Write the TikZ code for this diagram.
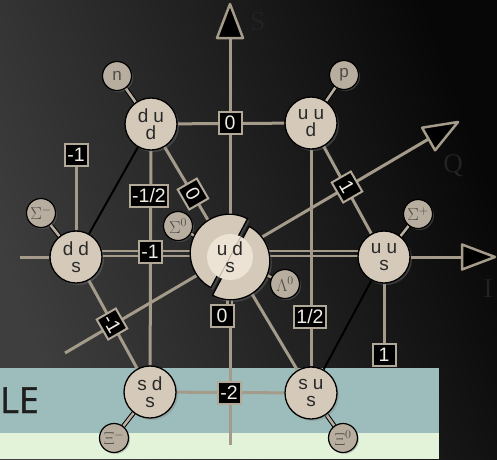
\documentclass[tikz,border=0pt]{standalone}
\usepackage{fontspec}
\setmainfont{Liberation Sans}
\newfontfamily\serifface{Liberation Serif}
\newfontfamily\leface[FakeBold=1.2]{Open Sans}
\usetikzlibrary{shadows,calc}
\pgfdeclarelayer{back}
\pgfdeclarelayer{bg}
\pgfsetlayers{back,bg,main}
\definecolor{bgA}{HTML}{3E3E3E}
\definecolor{bgB}{HTML}{070707}
\definecolor{tealband}{HTML}{9CBDBB}
\definecolor{greenband}{HTML}{E3F3DA}
\definecolor{letext}{HTML}{1E1E1E}
\definecolor{beige}{HTML}{D5CABA}
\definecolor{beigein}{HTML}{ECE3D5}
\definecolor{cutline}{HTML}{BDB2A2}
\definecolor{smallfill}{HTML}{B8AE9F}
\definecolor{linecol}{HTML}{A59B8B}
\definecolor{boxedge}{HTML}{B2A898}
\definecolor{boxtext}{HTML}{F2EDE4}
\definecolor{qtext}{HTML}{2A2A2A}
\definecolor{stext}{HTML}{4E4A45}
\definecolor{axislab}{HTML}{222222}
\begin{document}
\begin{tikzpicture}[x=1pt,y=-1pt,
  quark/.style={circle, draw=black, line width=1.3pt, fill=beige, minimum size=52pt,
    inner sep=0pt, align=center, text=qtext, font=\fontsize{19}{17.5}\selectfont,
    drop shadow={opacity=0.35, shadow xshift=2pt, shadow yshift=-2pt}},
  particle/.style={circle, draw=black, line width=1.2pt, fill=smallfill, minimum size=29pt,
    inner sep=0pt, text=stext, font=\fontsize{17}{17}\selectfont,
    drop shadow={opacity=0.35, shadow xshift=1.5pt, shadow yshift=-1.5pt}},
  numbox/.style={draw=boxedge, line width=2pt, fill=black, text=boxtext,
    font=\fontsize{19.5}{19.5}\selectfont, minimum height=22pt, minimum width=23pt, inner sep=2.5pt},
  axisline/.style={draw=linecol, line width=3pt},
  twinline/.style={draw=linecol, line width=2.3pt},
  hexline/.style={draw=black, line width=2pt},
  smallconn/.style={draw=black, line width=1pt, double=smallfill, double distance=2.6pt},
  arrowhead/.style={fill=black, draw=linecol, line width=2.5pt, line join=round},
  axislabel/.style={text=axislab, font=\serifface\fontsize{27}{27}\selectfont, inner sep=0pt}
]
\useasboundingbox (0,0) rectangle (497,459);
\begin{pgfonlayer}{back}
  \shade[top color=bgA, bottom color=bgB, shading angle=110] (0,0) rectangle (497,459);
  \fill[tealband] (0,368) rectangle (439,433);
  \fill[greenband] (0,433) rectangle (439,459);
  \node[anchor=base west, font=\leface\fontsize{36}{36}\selectfont, text=letext, inner sep=0pt] (le) at (0,413) {LE};
\end{pgfonlayer}

% axis end points
\coordinate (Stip) at (230,4);
\coordinate (Sbase) at (230,38);
\coordinate (Sbot) at (230,445);
\coordinate (Itip) at (495,257);
\coordinate (Ibase) at (462,257);
\coordinate (Ileft) at (20,257);
\coordinate (Qtip) at (458,122);
\coordinate (Qbase) at (428.6,139);
\coordinate (Qstart) at (65,353);

% central split particle: two shifted halves of a ring, whole light core
\foreach \sx/\sy/\a/\b in {-0.8/-3.8/118/298, 0.8/3.8/-62/118}{
  \begin{scope}[shift={(\sx,\sy)}]
    \fill[beige, drop shadow={opacity=0.35, shadow xshift=2pt, shadow yshift=-2pt}]
      (230,257) -- ++(\a:39) arc[start angle=\a, end angle=\b, radius=39] -- cycle;
    \draw[black, line width=1.3pt, line join=round] (230,257) -- ++(\a:39) arc[start angle=\a, end angle=\b, radius=39] -- cycle;
  \end{scope}
}
\fill[beigein] (230,257) circle[radius=23];
\draw[cutline, line width=0.8pt] (230,257) -- ++(-62:23);
\draw[cutline, line width=0.8pt] (230,257) -- ++(118:23);
\node[circle, minimum size=80pt, inner sep=0pt, align=center, text=qtext,
  font=\fontsize{19}{17.5}\selectfont] (uds) at (230,257) {u\hspace{5pt}d\\s};

% quark nodes
\node[quark] (ddu) at (151,124) {d\hspace{5pt}u\\d};
\node[quark] (uud) at (311,123) {u\hspace{5pt}u\\d};
\node[quark] (dds) at (76,257) {d\hspace{5pt}d\\s};
\node[quark] (uus) at (384,257) {u\hspace{5pt}u\\s};
\node[quark] (sds) at (150,392) {s\hspace{5pt}d\\s};
\node[quark] (sus) at (311,393) {s\hspace{5pt}u\\s};

% particle names
\node[particle] (n) at (117,76) {n};
\node[particle] (p) at (344,75) {p};
\node[particle] (sigm) at (41,213) {$\Sigma^-$};
\node[particle] (sigp) at (418,214) {$\Sigma^+$};
\node[particle] (sig0) at (178,226) {$\Sigma^0$};
\node[particle] (lam0) at (285,284) {$\Lambda^0$};
\node[particle] (xim) at (114,438) {$\Xi^-$};
\node[particle] (xi0) at (343,438) {$\Xi^0$};

% value boxes
\node[numbox] (s0) at (230,123) {0};
\node[numbox] (sm1) at (150,252) {-1};
\node[numbox] (sm2) at (229,393) {-2};
\node[numbox] (im12) at (149,196) {-1/2};
\node[numbox] (i12) at (310,317) {1/2};
\node[numbox] (i0) at (222,316) {0};
\node[numbox] (im1) at (76,155) {-1};
\node[numbox] (i1) at (384,355) {1};
\node[numbox, rotate=-60] (q1) at (347,187) {1};
\node[numbox, rotate=-60] (q0) at (193,194) {0};
\node[numbox, rotate=-60] (qm1) at (112,324) {-1};

% axis labels
\node[axislabel] (Slab) at (258,22) {S};
\node[axislabel] (Qlab) at (453,166) {Q};
\node[axislabel] (Ilab) at (488,289) {I};

\begin{pgfonlayer}{bg}
  % S axis
  \draw[axisline] (Sbot) -- (Sbot |- i0.south);
  \draw[axisline] (uds) -- (Sbase);
  \draw[twinline] ([xshift=-2.5pt]uds.center) -- ([xshift=-2.5pt]uds.center |- i0.north);
  \draw[twinline] ([xshift=2.2pt]uds.center) -- ([xshift=2.2pt]uds.center |- i0.north);
  % I axis
  \draw[axisline] (Ileft) -- (dds);
  \draw[twinline] ([yshift=6pt]dds.center) -- ([yshift=6pt]uds.center);
  \draw[twinline] ([yshift=1pt]dds.center) -- ([yshift=1pt]uds.center);
  \draw[twinline] ([yshift=6pt]uds.center) -- ([yshift=6pt]uus.center);
  \draw[twinline] ([yshift=1pt]uds.center) -- ([yshift=1pt]uus.center);
  \draw[axisline] (uus) -- (Ibase);
  % Q axis
  \draw[axisline] (Qstart) -- (Qbase);
  % lines of constant S, I, Q
  \draw[axisline] (ddu) -- (uud);
  \draw[axisline] (sds) -- (sus);
  \draw[axisline] (ddu) -- (sds);
  \draw[axisline] (uud) -- (sus);
  \draw[axisline] (dds) -- (im1);
  \draw[axisline] (uus) -- (i1);
  \draw[axisline] (ddu) -- (uds);
  \draw[axisline] (uds) -- (sus);
  \draw[axisline] (uud) -- (uus);
  \draw[axisline] (dds) -- (sds);
  % hexagon edges
  \draw[hexline] (ddu) -- (dds);
  \draw[hexline] (uus) -- (sus);
  % particle connectors
  \draw[smallconn] (n) -- (ddu);
  \draw[smallconn] (p) -- (uud);
  \draw[smallconn] (sigm) -- (dds);
  \draw[smallconn] (sigp) -- (uus);
  \draw[smallconn] (sig0) -- (uds);
  \draw[smallconn] (lam0) -- (uds);
  \draw[smallconn] (xim) -- (sds);
  \draw[smallconn] (xi0) -- (sus);
  % arrow heads
  \draw[arrowhead] (Stip) -- ++(-13,34) -- ++(26,0) -- cycle;
  \draw[arrowhead] (Itip) -- ++(-33,-12.5) -- ++(0,25) -- cycle;
  \draw[arrowhead] (Qtip) -- ++(-35.9,5.7) -- ++(13,22.6) -- cycle;
\end{pgfonlayer}
\end{tikzpicture}
\end{document}
